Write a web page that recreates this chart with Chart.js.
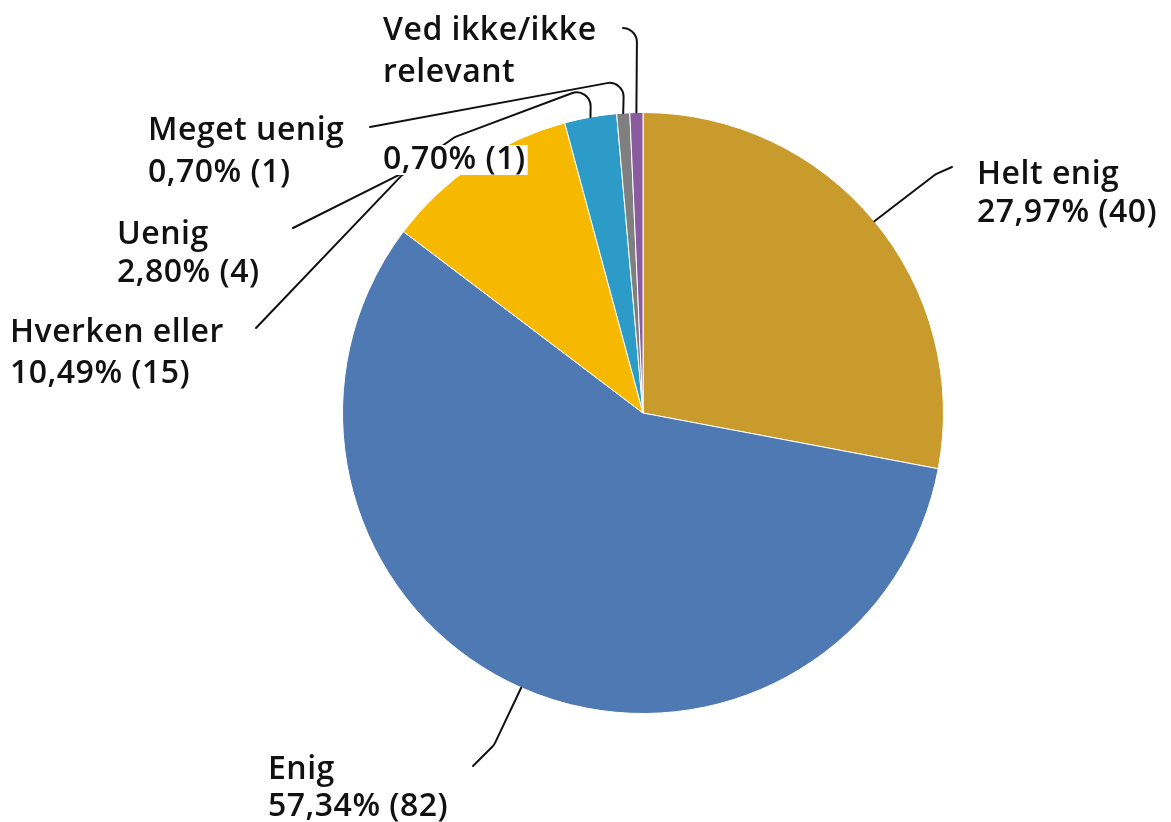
<!DOCTYPE html>
<html>
<head>
<meta charset="utf-8">
<script src="https://cdn.jsdelivr.net/npm/chart.js@4/dist/chart.umd.min.js"></script>
<style>
    html, body { margin: 0; padding: 0; background: #ffffff; }
    #wrap { width: 1171px; height: 822px; position: relative; }
</style>
</head>
<body>
<div id="wrap"><canvas id="pieChart" width="1171" height="822"></canvas></div>
<script>
// Data
const categories = ['Helt enig', 'Enig', 'Hverken eller', 'Uenig', 'Meget uenig', 'Ved ikke/ikke relevant'];
const counts = [40, 82, 15, 4, 1, 1];
const sliceColors = ['#C99B2C', '#4E79B3', '#F6B900', '#2D9BC7', '#7F7F7F', '#8A5C9F'];

// label text lines (first lines = category name, wrapped)
const nameLines = [['Helt enig'], ['Enig'], ['Hverken eller'], ['Uenig'], ['Meget uenig'], ['Ved ikke/ikke', 'relevant']];

const total = counts.reduce((a, b) => a + b, 0);
const pctText = counts.map(c => (c / total * 100).toFixed(2).replace('.', ',') + '% (' + c + ')');

// Label placement: text line positions [x, yCenter] and leader waypoints
const labelLayout = [
    { lines: [[977, 175], [977, 213]], path: [[936, 174], [952, 167]] },
    { lines: [[268, 770], [268, 807]], path: [[494, 745], [473, 766]] },
    { lines: [[10, 333], [10, 374]], path: [[405, 172], [256, 328]] },
    { lines: [[117, 235], [117, 273]], path: [[591, 86], [455, 137], [405, 172], [293, 228]] },
    { lines: [[148, 131], [148, 173]], path: [[624, 80], [370, 127]] },
    { lines: [[383, 31], [383, 73], [383, 160]], path: [[637, 30], [623, 28]] }
];

const labelFont = '600 32px "Open Sans", sans-serif';

const leaderPlugin = {
    id: 'leaderLabels',
    afterDatasetsDraw(chart) {
        const ctx = chart.ctx;
        const arcs = chart.getDatasetMeta(0).data;
        ctx.save();
        // leader lines
        ctx.strokeStyle = '#111111';
        ctx.lineWidth = 2;
        ctx.lineJoin = 'round';
        ctx.lineCap = 'round';
        arcs.forEach((arc, i) => {
            const p = arc.getProps(['x', 'y', 'startAngle', 'endAngle', 'outerRadius'], true);
            const mid = (p.startAngle + p.endAngle) / 2;
            const pts = [[p.x + Math.cos(mid) * p.outerRadius, p.y + Math.sin(mid) * p.outerRadius]]
                .concat(labelLayout[i].path);
            ctx.beginPath();
            ctx.moveTo(pts[0][0], pts[0][1]);
            for (let k = 1; k < pts.length - 1; k++) {
                ctx.arcTo(pts[k][0], pts[k][1], pts[k + 1][0], pts[k + 1][1], 14);
            }
            const last = pts[pts.length - 1];
            ctx.lineTo(last[0], last[1]);
            ctx.stroke();
        });
        // label texts
        ctx.font = labelFont;
        ctx.letterSpacing = '0.5px';
        ctx.textAlign = 'left';
        ctx.textBaseline = 'middle';
        arcs.forEach((arc, i) => {
            const texts = nameLines[i].concat([pctText[i]]);
            texts.forEach((t, j) => {
                const pos = labelLayout[i].lines[j];
                const w = ctx.measureText(t).width;
                ctx.fillStyle = '#ffffff';
                ctx.fillRect(pos[0] - 2, pos[1] - 15, w + 4, 30);
                ctx.fillStyle = '#111111';
                ctx.fillText(t, pos[0], pos[1]);
            });
        });
        ctx.restore();
    }
};

new Chart(document.getElementById('pieChart'), {
    type: 'pie',
    data: {
        labels: categories,
        datasets: [{
            data: counts,
            backgroundColor: sliceColors,
            borderColor: '#ffffff',
            borderWidth: 1
        }]
    },
    options: {
        responsive: false,
        animation: false,
        layout: { padding: { top: 112, bottom: 108, left: 342, right: 227 } },
        plugins: {
            legend: { display: false },
            tooltip: { enabled: false }
        }
    },
    plugins: [leaderPlugin]
});
</script>
</body>
</html>
